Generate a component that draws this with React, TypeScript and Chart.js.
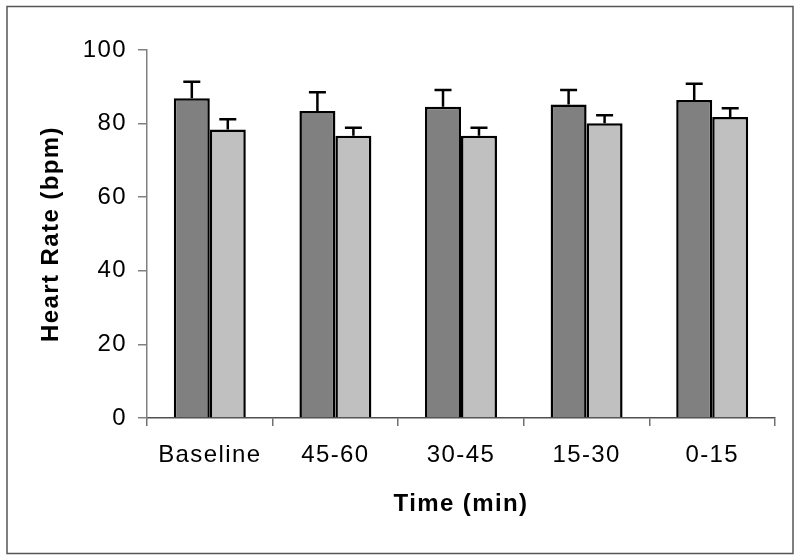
import React, { useEffect, useRef } from "react";
import { Chart, registerables } from "chart.js";

Chart.register(...registerables);

const categories = ["Baseline", "45-60", "30-45", "15-30", "0-15"];
const darkMeans = [86.9, 83.4, 84.6, 85.2, 86.4];
const darkErr = [4.5, 5.1, 4.5, 3.9, 4.4];
const lightMeans = [78.4, 76.7, 76.7, 80.1, 81.8];
const lightErr = [2.8, 2.2, 2.2, 2.2, 2.4];
const yTicks = [0, 20, 40, 60, 80, 100];

const errors = [darkErr, lightErr];

const errorBarPlugin = {
  id: "errorBars",
  afterDatasetsDraw(chart: any) {
    const ctx = chart.ctx;
    const yScale = chart.scales.y;
    ctx.save();
    ctx.strokeStyle = "#000";
    ctx.lineWidth = 2.5;
    chart.data.datasets.forEach((ds: any, di: number) => {
      const meta = chart.getDatasetMeta(di);
      meta.data.forEach((el: any, i: number) => {
        const v = ds.data[i] as number;
        const e = errors[di][i];
        const yTop = yScale.getPixelForValue(v + e);
        const x = el.x;
        ctx.beginPath();
        ctx.moveTo(x, el.y);
        ctx.lineTo(x, yTop);
        ctx.moveTo(x - 8.5, yTop);
        ctx.lineTo(x + 8.5, yTop);
        ctx.stroke();
      });
    });
    ctx.restore();
  },
};

const textSpacingPlugin = {
  id: "textSpacing",
  beforeDraw(chart: any) {
    (chart.ctx as any).letterSpacing = "1.4px";
  },
  afterDraw(chart: any) {
    (chart.ctx as any).letterSpacing = "0px";
  },
};

const framePlugin = {
  id: "frame",
  afterDraw(chart: any) {
    const ctx = chart.ctx;
    ctx.save();
    ctx.strokeStyle = "#555";
    ctx.lineWidth = 1.5;
    ctx.strokeRect(7, 6.5, 786, 547);
    ctx.restore();
  },
};

export default function App() {
  const ref = useRef<HTMLCanvasElement | null>(null);
  useEffect(() => {
    document.body.style.margin = "0";
    if (!ref.current) return;
    Chart.defaults.font.family = "'Liberation Sans', Arial, sans-serif";
    Chart.defaults.color = "#000";
    const chart = new Chart(ref.current, {
      type: "bar",
      data: {
        labels: categories,
        datasets: [
          {
            label: "Group 1",
            data: darkMeans,
            backgroundColor: "#808080",
            borderColor: "#000",
            borderWidth: 2.5,
            borderSkipped: "start",
          },
          {
            label: "Group 2",
            data: lightMeans,
            backgroundColor: "#c0c0c0",
            borderColor: "#000",
            borderWidth: 2.5,
            borderSkipped: "start",
          },
        ],
      },
      options: {
        responsive: false,
        animation: false,
        events: [],
        layout: { padding: { left: 0, right: 25, top: 50, bottom: 0 } },
        datasets: {
          bar: { categoryPercentage: 0.573, barPercentage: 1 },
        },
        plugins: {
          legend: { display: false },
          tooltip: { enabled: false },
          title: { display: false },
        },
        scales: {
          x: {
            grid: {
              display: true,
              drawOnChartArea: false,
              drawTicks: true,
              tickLength: 8,
              color: "#707070",
              lineWidth: 1.5,
            },
            border: { display: true, color: "#505050", width: 1.5 },
            ticks: {
              font: { size: 24 },
              padding: 15,
              color: "#000",
              maxRotation: 0,
            },
            title: {
              display: true,
              text: "Time (min)",
              font: { size: 24, weight: "bold" },
              color: "#000",
              padding: { top: 0, bottom: 41 },
            },
            afterFit(scale: any) {
              scale.height = 142;
            },
          },
          y: {
            min: 0,
            max: 100,
            afterBuildTicks(scale: any) {
              scale.ticks = yTicks.map((v) => ({ value: v }));
            },
            grid: {
              display: true,
              drawOnChartArea: false,
              drawTicks: true,
              tickLength: 9,
              color: "#808080",
              lineWidth: 1.5,
            },
            border: { display: true, color: "#808080", width: 1.5 },
            ticks: {
              font: { size: 24 },
              padding: 11,
              color: "#000",
            },
            title: {
              display: true,
              text: "Heart Rate (bpm)",
              font: { size: 24, weight: "bold" },
              color: "#000",
              padding: { top: 37, bottom: 0 },
            },
            afterFit(scale: any) {
              scale.width = 147;
            },
          },
        },
      },
      plugins: [textSpacingPlugin, errorBarPlugin, framePlugin],
    });
    return () => chart.destroy();
  }, []);
  return (
    <div style={{ width: 800, height: 560, background: "#fff" }}>
      <canvas ref={ref} width={800} height={560} />
    </div>
  );
}
